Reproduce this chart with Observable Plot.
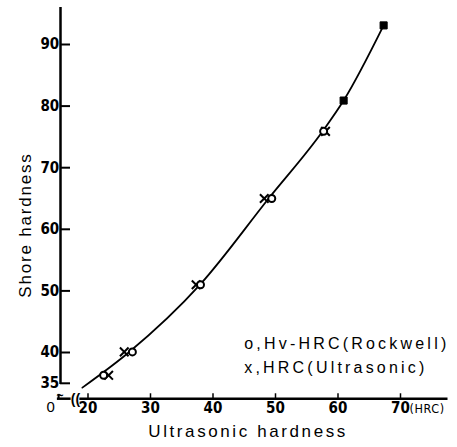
<!DOCTYPE html>
<html>
<head>
<meta charset="utf-8">
<script src="https://cdn.jsdelivr.net/npm/d3@7"></script>
<script src="https://cdn.jsdelivr.net/npm/@observablehq/plot@0.6"></script>
<style>
  html, body { margin: 0; padding: 0; background: #fff; }
  #chart svg { display: block; }
  #chart [aria-description="legend"] text { letter-spacing: 3.2px; }
  #chart [aria-description="x title"] text { letter-spacing: 2.6px; }
  #chart [aria-description="y title"] text { letter-spacing: 1.8px; }
  #chart [aria-description="unit"] text { letter-spacing: 0.6px; }
</style>
</head>
<body>
<div id="chart"></div>
<script>
// Tick values for the two axes
const xTicks = [20, 30, 40, 50, 60, 70];
const yTicks = [35, 40, 50, 60, 70, 80, 90];

// o: Hv converted to HRC (Rockwell)
const rockwellX = [22.5, 27.1, 38.0, 49.4, 57.7];
const rockwellY = [36.3, 40.1, 51.0, 65.0, 75.9];

// x: HRC measured ultrasonically
const ultrasonicX = [23.3, 25.8, 37.3, 48.2, 58.0];
const ultrasonicY = [36.3, 40.1, 51.0, 65.0, 75.9];

// points where both readings coincide
const bothX = [60.9, 67.3];
const bothY = [80.9, 93.1];

// fitted relation between ultrasonic hardness and Shore hardness
const curveX = [19.1, 26.5, 38.0, 48.9, 57.6, 60.9, 67.3];
const curveY = [34.3, 40.0, 51.1, 65.0, 76.0, 80.9, 93.1];

const legendText = "o,Hv-HRC(Rockwell)\nx,HRC(Ultrasonic)";

const toRows = (xs, ys) => xs.map((x, i) => ({x, y: ys[i]}));
const rockwell = toRows(rockwellX, rockwellY);
const ultrasonic = toRows(ultrasonicX, ultrasonicY);
const both = toRows(bothX, bothY);
const curve = toRows(curveX, curveY);

const narrow = "'Liberation Sans Narrow', 'DejaVu Sans Condensed', sans-serif";
const tickFont = {fontFamily: narrow, fontSize: 15, fontWeight: "bold"};
const textFont = "'Liberation Sans', Arial, sans-serif";

// axis extent (broken near the origin)
const xMin = 15.1, xMax = 77.6, yMin = 32.5, yMax = 96;
const yAxisAt = 15.6;

const chart = Plot.plot({
  width: 457,
  height: 447,
  marginLeft: 56.25,
  marginRight: 10.125,
  marginTop: 7.04,
  marginBottom: 48.8,
  x: {domain: [15, 77.5]},
  y: {domain: [32.5, 96]},
  style: {background: "#fff", color: "#000"},
  marks: [
    // y axis: main part, then stub below the break
    Plot.ruleX([yAxisAt], {y1: 34.8, y2: yMax, stroke: "#000", strokeWidth: 2.5}),
    Plot.ruleX([15.3], {y1: yMin, y2: 33.2, stroke: "#000", strokeWidth: 2}),
    // x axis: stub, then main part after the break
    Plot.ruleY([yMin], {x1: xMin, x2: 17.3, stroke: "#000", strokeWidth: 2.5}),
    Plot.ruleY([yMin], {x1: 18.7, x2: xMax, stroke: "#000", strokeWidth: 2.5}),
    // break symbols
    Plot.text(["~"], {x: 15.5, y: 32.85, text: d => d, fontSize: 12, fontWeight: "bold", fontFamily: textFont}),
    Plot.text(["(("], {x: 18.0, y: yMin, text: d => d, fontSize: 14, fontWeight: "bold", fontFamily: textFont, dy: 0.5}),
    // inward ticks
    Plot.ruleY(yTicks, {y: d => d, x1: yAxisAt, x2: 17.2, stroke: "#000", strokeWidth: 2}),
    Plot.ruleX(xTicks, {x: d => d, y1: yMin, y2: 33.3, stroke: "#000", strokeWidth: 1.5}),
    Plot.axisY({ticks: yTicks, tickSize: 0, tickPadding: -2.5, label: null, ...tickFont}),
    Plot.axisX({ticks: xTicks, tickSize: 0, tickPadding: 4, label: null, ...tickFont}),
    Plot.text(["(HRC)"], {x: 70, y: yMin, text: d => d, dx: 9, dy: 10, textAnchor: "start", fontSize: 12.5, fontFamily: narrow, ariaDescription: "unit"}),
    Plot.text(["0"], {x: 15, y: yMin, text: d => d, dx: -6, dy: 8, fontSize: 15, fontFamily: textFont}),
    // axis titles
    Plot.text(["Shore hardness"], {frameAnchor: "left", text: d => d, textAnchor: "middle", lineAnchor: "middle", dx: -31, dy: 22, rotate: -90, fontSize: 17, fontFamily: textFont, ariaDescription: "y title"}),
    Plot.text(["Ultrasonic hardness"], {frameAnchor: "bottom", text: d => d, textAnchor: "middle", lineAnchor: "middle", dx: -4, dy: 33, fontSize: 17, fontFamily: textFont, ariaDescription: "x title"}),
    // fitted curve
    Plot.line(curve, {x: "x", y: "y", curve: "monotone-x", stroke: "#000", strokeWidth: 1.8}),
    // measurements
    Plot.dot(ultrasonic, {x: "x", y: "y", symbol: "times", r: 4, stroke: "#000", strokeWidth: 2}),
    Plot.dot(rockwell, {x: "x", y: "y", symbol: "circle", r: 3.5, stroke: "#000", fill: "#fff", strokeWidth: 2}),
    Plot.dot(both, {x: "x", y: "y", symbol: "square", r: 4, fill: "#000", stroke: "#000", strokeWidth: 1}),
    // legend
    Plot.text([legendText], {x: 45, y: 43.4, text: d => d, textAnchor: "start", lineAnchor: "top", lineHeight: 1.5, fontSize: 16, fontFamily: textFont, ariaDescription: "legend"})
  ]
});

document.getElementById("chart").append(chart);
</script>
</body>
</html>
